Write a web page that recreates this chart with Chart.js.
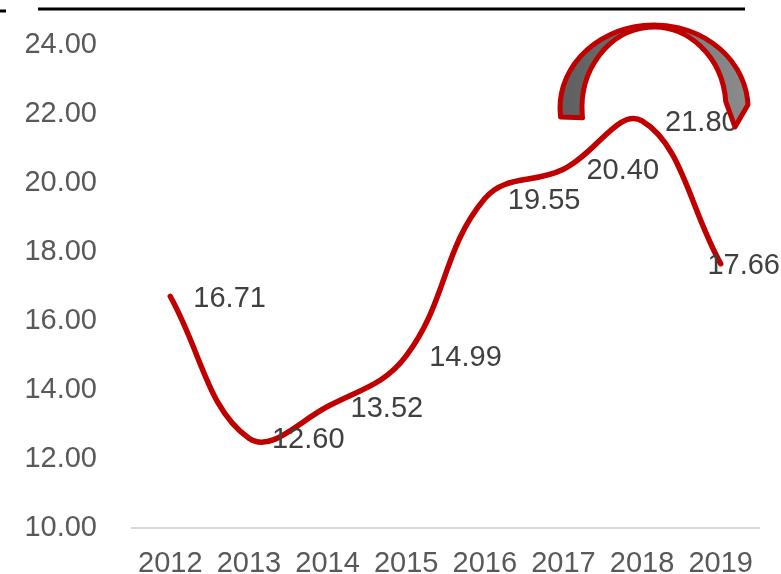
<!DOCTYPE html>
<html>
<head>
<meta charset="utf-8">
<script src="https://cdn.jsdelivr.net/npm/chart.js@4.4.1/dist/chart.umd.min.js"></script>
<style>
  html, body { margin: 0; padding: 0; background: #fff; }
  #wrap { width: 781px; height: 574px; position: relative; }
</style>
</head>
<body>
<div id="wrap"><canvas id="chart"></canvas></div>
<script>
// Yearly values, one per category
const years = ['2012', '2013', '2014', '2015', '2016', '2017', '2018', '2019']
const values = [16.71, 12.60, 13.52, 14.99, 19.55, 20.40, 21.80, 17.66]
const yMin = 10
const yMax = 24
const yStep = 2

const LINE_RED = '#c00000'
const FONT = "'Liberation Sans', Arial, sans-serif"

// Value labels sit to the right of each point, pulled back if they run off the canvas
const valueLabels = {
  id: 'valueLabels',
  afterDatasetsDraw(chart) {
    const ctx = chart.ctx
    const meta = chart.getDatasetMeta(0)
    ctx.save()
    ctx.font = '29px ' + FONT
    ctx.fillStyle = '#404040'
    ctx.textAlign = 'left'
    ctx.textBaseline = 'middle'
    meta.data.forEach((pt, i) => {
      const text = values[i].toFixed(2)
      const w = ctx.measureText(text).width
      let x = pt.x + 23
      if (x + w > chart.width - 1) x = chart.width - w - 1
      ctx.fillText(text, x, pt.y + 2)
    })
    ctx.restore()
  }
}

// Top rule and the grey block arc in the upper right
const decorations = {
  id: 'decorations',
  afterDraw(chart) {
    const ctx = chart.ctx
    ctx.save()

    ctx.strokeStyle = '#000'
    ctx.lineWidth = 3
    ctx.beginPath()
    ctx.moveTo(38, 9)
    ctx.lineTo(745, 9)
    ctx.moveTo(0, 11)
    ctx.lineTo(6, 11)
    ctx.stroke()

    const cx = 654, cy = 108
    const orx = 94, ory = 83
    const irx = 72, iry = 81
    const grad = ctx.createLinearGradient(560, 0, 750, 0)
    grad.addColorStop(0, '#5e5e5e')
    grad.addColorStop(1, '#8c8c8c')

    ctx.beginPath()
    ctx.ellipse(cx, cy, orx, ory, 0, Math.PI - 0.11, Math.PI * 2 - 0.04, false)
    ctx.lineTo(735, 127)
    ctx.lineTo(cx + irx * Math.cos(-0.08), cy + iry * Math.sin(-0.08))
    ctx.ellipse(cx, cy, irx, iry, 0, Math.PI * 2 - 0.08, Math.PI - 0.12, true)
    ctx.closePath()
    ctx.fillStyle = grad
    ctx.fill()
    ctx.lineWidth = 5
    ctx.lineJoin = 'round'
    ctx.strokeStyle = LINE_RED
    ctx.stroke()

    ctx.restore()
  }
}

new Chart(document.getElementById('chart'), {
  type: 'line',
  data: {
    labels: years,
    datasets: [{
      data: values,
      borderColor: LINE_RED,
      borderWidth: 5.5,
      borderCapStyle: 'round',
      tension: 0.4,
      pointRadius: 0,
      fill: false
    }]
  },
  options: {
    responsive: true,
    maintainAspectRatio: false,
    animation: false,
    layout: {
      padding: { top: 45, right: 21, left: 0, bottom: 0 }
    },
    plugins: {
      legend: { display: false },
      tooltip: { enabled: false }
    },
    scales: {
      x: {
        offset: true,
        grid: { display: false },
        border: { display: false },
        ticks: {
          color: '#595959',
          font: { family: FONT, size: 29 },
          padding: 11,
          maxRotation: 0
        },
        afterFit: (s) => { s.height = 46 }
      },
      y: {
        min: yMin,
        max: yMax,
        border: { display: false },
        grid: {
          drawTicks: false,
          lineWidth: 2,
          color: (c) => (c.tick && c.tick.value === yMin ? '#d9d9d9' : 'rgba(0,0,0,0)')
        },
        ticks: {
          stepSize: yStep,
          color: '#595959',
          font: { family: FONT, size: 29 },
          padding: 34,
          callback: (v) => Number(v).toFixed(2)
        },
        // fixed gutter; tick padding should not push the plot area down
        afterFit: (s) => {
          s.width = 131
          s.paddingTop = 0
          s.paddingBottom = 0
        }
      }
    }
  },
  plugins: [valueLabels, decorations]
})
</script>
</body>
</html>
